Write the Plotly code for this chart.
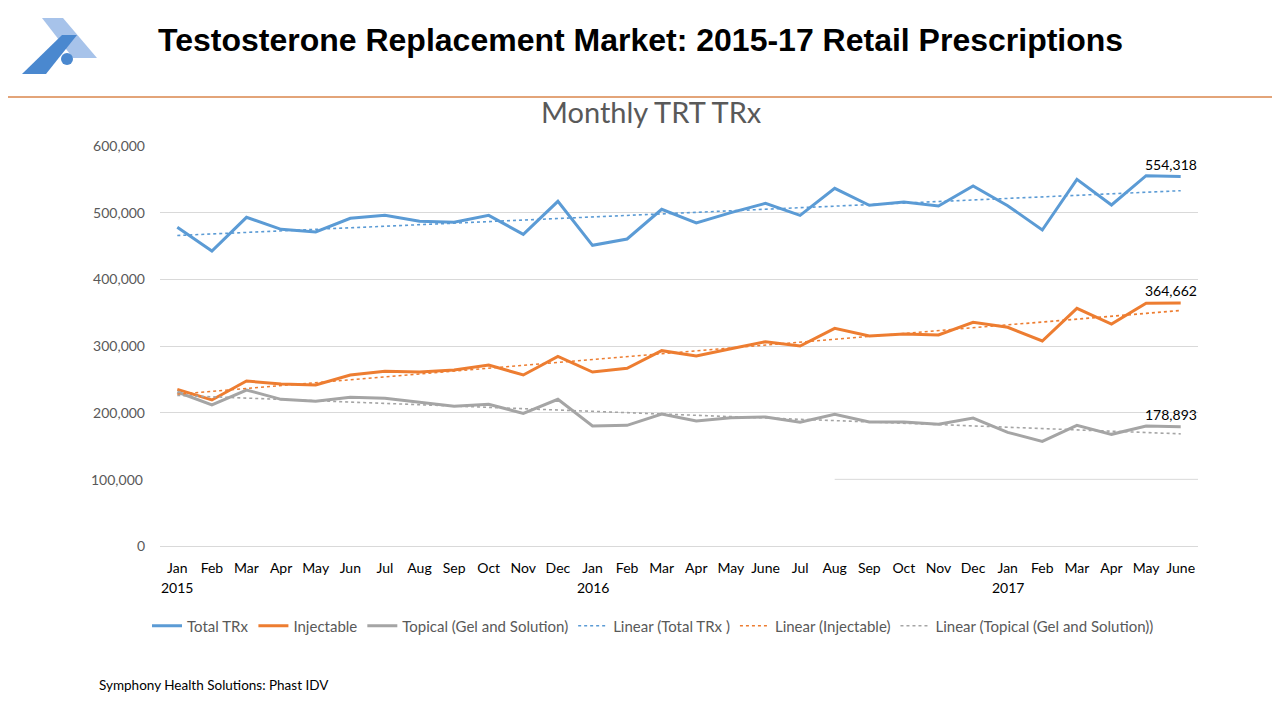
import numpy as np
import plotly.graph_objects as go

months = ["Jan", "Feb", "Mar", "Apr", "May", "Jun", "Jul", "Aug", "Sep", "Oct", "Nov", "Dec",
          "Jan", "Feb", "Mar", "Apr", "May", "June", "Jul", "Aug", "Sep", "Oct", "Nov", "Dec",
          "Jan", "Feb", "Mar", "Apr", "May", "June"]
year_pos = [0, 12, 24]
year_labels = ["2015", "2016", "2017"]

total_trx = [478000, 442500, 493000, 475000, 471000, 491500, 496000, 487000, 485500, 496000,
             467500, 517000, 451000, 460500, 505000, 484500, 500000, 514000, 496000, 536500,
             511000, 516000, 510000, 540000, 510500, 474000, 550000, 511500, 555500, 554318]
injectable = [235000, 219000, 247500, 243000, 241500, 256500, 262000, 261000, 264000, 271500,
              256500, 284500, 261000, 266500, 293000, 285000, 296000, 306500, 300000, 326500,
              315000, 318000, 316500, 335500, 328000, 307500, 356500, 333000, 364000, 364662]
topical = [231000, 211500, 234000, 220000, 217000, 223000, 221500, 215000, 209500, 212500,
           199000, 220000, 180000, 181000, 198000, 187500, 192500, 193500, 185500, 197500,
           186000, 186000, 182500, 192000, 170500, 157000, 181000, 167500, 180000, 178893]

series = [
    ("Total TRx", total_trx, "#5B9BD5", "Linear (Total TRx )"),
    ("Injectable", injectable, "#ED7D31", "Linear (Injectable)"),
    ("Topical (Gel and Solution)", topical, "#A5A5A5", "Linear (Topical (Gel and Solution))"),
]

x = list(range(len(months)))

# plot-area geometry in screen pixels (page body has an 8px margin)
OFF = 8
L, R, T, B = 160, 1198, 146, 546
PW, PH = R - L, B - T


def px(xp):
    return (xp - L) / PW


def py(yp):
    return (B - yp) / PH


fig = go.Figure()
for name, vals, color, _ in series:
    fig.add_trace(go.Scatter(x=x, y=vals, mode="lines", name=name,
                             line=dict(color=color, width=3)))
for name, vals, color, tname in series:
    k, b = np.polyfit(x, vals, 1)
    trend = [k * xi + b for xi in x]
    fig.add_trace(go.Scatter(x=x, y=trend, mode="lines", name=tname,
                             line=dict(color=color, width=1.6, dash="dot")))

annotations = []
for name, vals, color, _ in series:
    annotations.append(dict(x=x[-1], y=vals[-1], xref="x", yref="y",
                            text=f"{vals[-1]:,}", showarrow=False, xshift=-10, yshift=12,
                            font=dict(family="Lato", size=14, color="#000000")))

for pos, lab in zip(year_pos, year_labels):
    annotations.append(dict(x=pos, y=py(587), xref="x", yref="paper", xanchor="center",
                            yanchor="middle", text=lab, showarrow=False,
                            font=dict(family="Lato", size=14, color="#000000")))

annotations += [
    dict(x=px(640), y=py(40), xref="paper", yref="paper", xanchor="center", yanchor="middle",
         text="<b>Testosterone Replacement Market: 2015-17 Retail Prescriptions</b>", showarrow=False,
         font=dict(family="Liberation Sans", size=32, color="#000000")),
    dict(x=px(651), y=py(111), xref="paper", yref="paper", xanchor="center", yanchor="middle",
         text="Monthly TRT TRx", showarrow=False,
         font=dict(family="Lato", size=29, color="#595959")),
    dict(x=px(97), y=py(685), xref="paper", yref="paper", xanchor="left", yanchor="middle",
         text="Symphony Health Solutions: Phast IDV", showarrow=False,
         font=dict(family="Lato", size=13.5, color="#000000")),
    dict(x=px(145), y=100000, xref="paper", yref="y", xanchor="right", yanchor="middle",
         text="100,000", showarrow=False,
         font=dict(family="Lato", size=14, color="#595959")),
]


def poly(pts):
    return "M " + " L ".join(f"{px(a)},{py(b)}" for a, b in pts) + " Z"


shapes = [
    dict(type="line", xref="paper", yref="paper", x0=px(0), x1=px(1280), y0=py(97), y1=py(97),
         line=dict(color="#E3A479", width=2)),
    dict(type="path", xref="paper", yref="paper",
         path=poly([(42, 18), (63, 18), (97, 58), (73, 58)]),
         fillcolor="#A7C3EA", line=dict(width=0)),
    dict(type="path", xref="paper", yref="paper",
         path=poly([(22, 74), (46, 74), (77, 35), (62, 35)]),
         fillcolor="#4A88CF", line=dict(width=0)),
    dict(type="circle", xref="paper", yref="paper", x0=px(61), x1=px(73), y0=py(53), y1=py(65),
         fillcolor="#4A88CF", line=dict(width=0)),
    dict(type="line", xref="x", yref="y", x0=19, x1=29.5, y0=100000, y1=100000,
         line=dict(color="#D9D9D9", width=1), layer="below"),
]

fig.update_layout(
    width=1280, height=720,
    margin=dict(l=L - OFF, r=1280 + OFF - R, t=T - OFF, b=720 + OFF - B, pad=0),
    paper_bgcolor="white", plot_bgcolor="white",
    showlegend=True,
    legend=dict(orientation="h", x=px(653), xanchor="center", y=py(626), yanchor="middle",
                font=dict(family="Lato", size=15, color="#595959"), tracegroupgap=0),
    annotations=annotations,
    shapes=shapes,
    xaxis=dict(range=[-0.5, 29.5], tickvals=x, ticktext=months, showgrid=False,
               showline=False, ticks="", ticklabelstandoff=12,
               tickfont=dict(family="Lato", size=14, color="#000000"),
               zeroline=False, fixedrange=True),
    yaxis=dict(range=[0, 600000], tickvals=[0, 200000, 300000, 400000, 500000, 600000],
               ticktext=["0", "200,000", "300,000", "400,000", "500,000", "600,000"],
               showgrid=True, gridcolor="#D9D9D9", gridwidth=1, zeroline=True,
               zerolinecolor="#D9D9D9", zerolinewidth=1, ticks="", ticklabelstandoff=14,
               tickfont=dict(family="Lato", size=14, color="#595959"), fixedrange=True),
)

fig.write_html("out.html")
